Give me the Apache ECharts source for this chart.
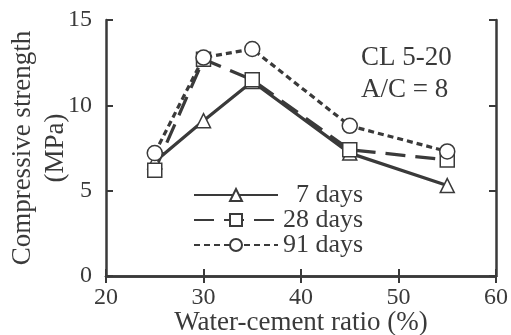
<!DOCTYPE html>
<html>
<head>
<meta charset="utf-8">
<script src="https://cdn.jsdelivr.net/npm/echarts@6/dist/echarts.min.js"></script>
<style>
  html, body { margin: 0; padding: 0; background: #fff; }
  #chart { width: 511px; height: 335px; }
</style>
</head>
<body>
<div id="chart"></div>
<script>
// water-cement ratio (%)
var ratios = [25, 30, 35, 45, 55];
// compressive strength (MPa)
var days7 = [6.7, 9.1, 11.4, 7.2, 5.3];
var days28 = [6.2, 12.7, 11.5, 7.4, 6.8];
var days91 = [7.2, 12.8, 13.3, 8.8, 7.3];
var seriesNames = ['7 days', '28 days', '91 days'];
var noteLines = ['CL 5-20', 'A/C = 8'];

var ink = '#3a3a3a';
var serif = '"Liberation Serif", "DejaVu Serif", serif';

function pairs(vals) {
  return ratios.map(function (r, i) { return [r, vals[i]]; });
}

function lineSeries(name, vals, symbol, size, dash) {
  return {
    name: name,
    type: 'line',
    data: pairs(vals),
    symbol: symbol,
    symbolSize: size,
    showAllSymbol: true,
    lineStyle: { color: ink, width: 3.2, type: dash },
    itemStyle: { color: '#fff', borderColor: ink, borderWidth: 1.5 },
    emphasis: { disabled: true },
    animation: false
  };
}

var chart = echarts.init(document.getElementById('chart'));

var option = {
  backgroundColor: '#fff',
  textStyle: { fontFamily: serif, color: ink },
  grid: { left: 106, right: 15, top: 20, bottom: 59, outerBoundsMode: 'none', containLabel: false },
  legend: {
    data: seriesNames,
    orient: 'vertical',
    left: 188,
    top: 177,
    itemWidth: 84,
    itemHeight: 15,
    itemGap: -1,
    selectedMode: false,
    formatter: function (n) { return n === '7 days' ? '\u00a0\u00a0' + n : n; },
    textStyle: { fontFamily: serif, fontSize: 26, color: ink, lineHeight: 24.5 }
  },
  xAxis: [{
    type: 'value', min: 20, max: 60, interval: 10,
    name: 'Water-cement ratio (%)', nameLocation: 'middle', nameGap: 33,
    nameMoveOverlap: false,
    nameTextStyle: { fontFamily: serif, fontSize: 27, color: ink },
    axisLine: { lineStyle: { color: ink, width: 2.5 } },
    axisTick: { inside: true, length: 7, lineStyle: { color: ink, width: 2 } },
    axisLabel: { fontFamily: serif, fontSize: 24, color: ink, margin: 10 },
    splitLine: { show: false }
  }, {
    type: 'value', position: 'top', min: 20, max: 60, interval: 10,
    axisLine: { lineStyle: { color: ink, width: 2.5 } },
    axisTick: { inside: true, length: 7, lineStyle: { color: ink, width: 2 } },
    axisLabel: { show: false },
    splitLine: { show: false }
  }],
  yAxis: [{
    type: 'value', min: 0, max: 15, interval: 5,
    name: 'Compressive strength\n(MPa)', nameLocation: 'middle', nameGap: 34,
    nameRotate: 90, nameMoveOverlap: false,
    nameTextStyle: { fontFamily: serif, fontSize: 27, color: ink, lineHeight: 33 },
    axisLine: { show: true, lineStyle: { color: ink, width: 2.5 } },
    axisTick: { show: true, inside: true, length: 7, lineStyle: { color: ink, width: 2 } },
    axisLabel: { fontFamily: serif, fontSize: 24, color: ink, margin: 14 },
    splitLine: { show: false }
  }, {
    type: 'value', position: 'right', min: 0, max: 15, interval: 5,
    axisLine: { show: true, lineStyle: { color: ink, width: 2.5 } },
    axisTick: { show: true, inside: true, length: 7, lineStyle: { color: ink, width: 2 } },
    axisLabel: { show: false },
    splitLine: { show: false }
  }],
  graphic: [{
    type: 'text', left: 361, top: 42,
    style: { text: noteLines.join('\n'), fontFamily: serif, fontSize: 27, lineHeight: 32, fill: ink }
  }],
  series: [
    lineSeries(seriesNames[0], days7, 'triangle', 14, 'solid'),
    lineSeries(seriesNames[1], days28, 'rect', 14, [20, 10]),
    lineSeries(seriesNames[2], days91, 'circle', 15, [6, 4])
  ]
};

chart.setOption(option);
</script>
</body>
</html>
